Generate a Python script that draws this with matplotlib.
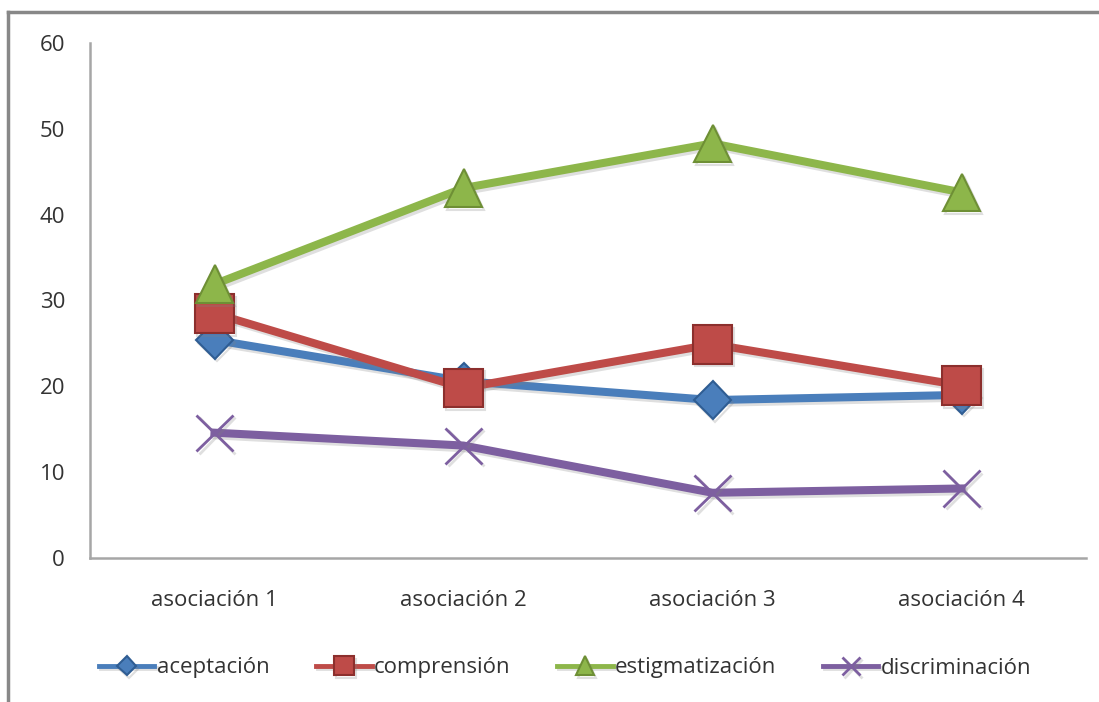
import matplotlib
matplotlib.use("Agg")
import matplotlib.pyplot as plt
import matplotlib.patheffects as pe
from matplotlib.lines import Line2D

plt.rcParams['font.family'] = ['Open Sans', 'DejaVu Sans']

categorias = ["asociación 1", "asociación 2", "asociación 3", "asociación 4"]
aceptacion = [25.4, 20.6, 18.4, 19.0]
comprension = [28.5, 19.8, 24.9, 20.1]
estigmatizacion = [31.9, 43.1, 48.3, 42.6]
discriminacion = [14.6, 13.1, 7.6, 8.1]

series = [
    ("aceptación", aceptacion, "#4a7ebb", "D", 19),
    ("comprensión", comprension, "#be4b48", "s", 28),
    ("estigmatización", estigmatizacion, "#8db64a", "^", 27),
    ("discriminación", discriminacion, "#7d5fa0", "x", 26),
]

fig = plt.figure(figsize=(10.99, 7.02), dpi=100)
ax = fig.add_axes([90 / 1099, 1 - 558 / 702, (1086 - 90) / 1099, (558 - 43) / 702])

x = list(range(len(categorias)))
sombra = [pe.SimpleLineShadow(offset=(1.5, -2), alpha=0.25, shadow_color="gray"), pe.Normal()]
edges = {"D": "#2f5d93", "s": "#8c2f2d", "^": "#6e8f35", "x": "#7d5fa0"}
for nombre, valores, color, marcador, ms in series:
    ax.plot(x, valores, color=color, lw=5.8, marker=marcador, ms=ms,
            markerfacecolor=color, markeredgecolor=edges[marcador],
            markeredgewidth=1.5 if marcador != "x" else 2, label=nombre,
            path_effects=sombra, solid_joinstyle="round")

ax.set_xlim(-0.5, len(categorias) - 0.5)
ax.set_ylim(0, 60)
ax.set_yticks(range(0, 61, 10))
ax.set_xticks(x)
ax.set_xticklabels(categorias)
ax.tick_params(axis="both", length=0, labelsize=16, colors="#333333")
ax.tick_params(axis="y", pad=18)
ax.tick_params(axis="x", pad=23)
for s in ["top", "right"]:
    ax.spines[s].set_visible(False)
for s in ["left", "bottom"]:
    ax.spines[s].set_color("#a6a6a6")
    ax.spines[s].set_linewidth(1.8)

leg = ax.legend(loc="center", bbox_to_anchor=(0.477, (668 - 558) / -515), ncol=4, frameon=False,
                fontsize=16, handlelength=2.5, markerscale=0.5, columnspacing=2.1,
                handletextpad=0.1, labelcolor="#333333")
for h in leg.get_lines():
    h.set_linewidth(3.5)

# borde del grafico
fig.add_artist(Line2D([8 / 1099, 8 / 1099], [0, 1 - 12 / 702], transform=fig.transFigure,
                      color="#888888", lw=2.5))
fig.add_artist(Line2D([8 / 1099, 1], [1 - 12 / 702, 1 - 12 / 702], transform=fig.transFigure,
                      color="#888888", lw=2.5))

fig.savefig("out.png", dpi=100)
